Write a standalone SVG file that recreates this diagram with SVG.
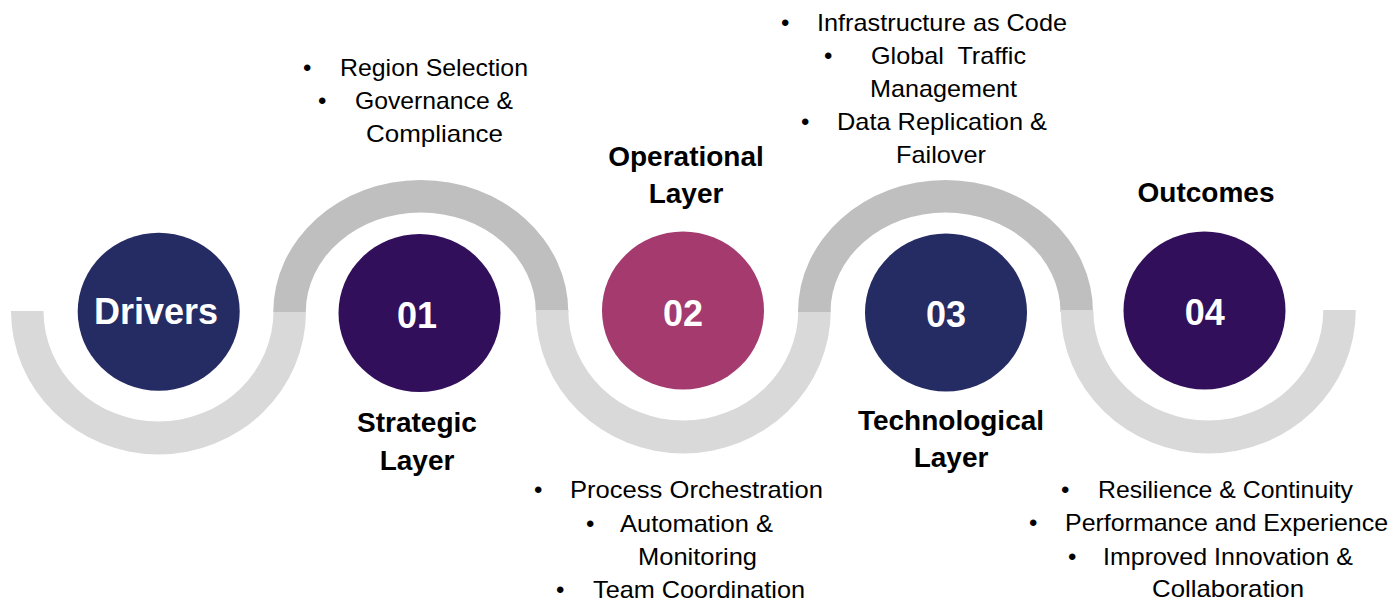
<svg xmlns="http://www.w3.org/2000/svg" width="1397" height="602" viewBox="0 0 1397 602">
<style>
.lo{fill:#d9d9d9}
.up{fill:#bfbfbf}
.num{font-family:"Liberation Sans",Arial,sans-serif;font-weight:bold;font-size:36px;fill:#ffffff;text-anchor:middle}
.ttl{font-family:"Liberation Sans",Arial,sans-serif;font-weight:bold;font-size:28px;fill:#000000;text-anchor:middle}
.bt{font-family:"Liberation Sans",Arial,sans-serif;font-size:24px;fill:#000000}
.navy{fill:#252b63}
.purple{fill:#320f5a}
.mag{fill:#a43a6e}
</style>
<rect width="1397" height="602" fill="#ffffff"/>
<g id="connectors">
<path class="lo" d="M11,311 A147.5,143.5 0 0 0 306,311 L273.5,311 A115,110.5 0 0 1 43.5,311 Z"/>
<path class="up" d="M273.3,312 A147.5,132 0 0 1 568.3,312 L535.8,312 A115,99.5 0 0 0 305.8,312 Z"/>
<path class="lo" d="M535.8,310 A147.5,143.5 0 0 0 830.8,310 L798.3,310 A115,110.5 0 0 1 568.3,310 Z"/>
<path class="up" d="M798,312 A147.5,132 0 0 1 1093,312 L1060.5,312 A115,99.5 0 0 0 830.5,312 Z"/>
<path class="lo" d="M1060.8,310 A147.5,143.5 0 0 0 1355.8,310 L1323.3,310 A115,110.5 0 0 1 1093.3,310 Z"/>
</g>
<g id="drivers">
<ellipse class="navy" cx="158.7" cy="311.7" rx="81" ry="79"/>
<text class="num" x="156" y="324" font-size="32.5">Drivers</text>
</g>
<g id="strategic">
<ellipse class="purple" cx="419.5" cy="313" rx="81" ry="79"/>
<text class="num" x="417" y="328">01</text>
<text class="ttl" x="417" y="432">Strategic</text>
<text class="ttl" x="417" y="470">Layer</text>
<text class="bt" x="303" y="76">•</text>
<text class="bt" x="340" y="76" textLength="188" lengthAdjust="spacingAndGlyphs">Region Selection</text>
<text class="bt" x="318" y="109">•</text>
<text class="bt" x="355" y="109" textLength="158" lengthAdjust="spacingAndGlyphs">Governance &amp;</text>
<text class="bt" x="366" y="142" textLength="137" lengthAdjust="spacingAndGlyphs">Compliance</text>
</g>
<g id="operational">
<ellipse class="mag" cx="683" cy="310.5" rx="81" ry="79"/>
<text class="num" x="683" y="326">02</text>
<text class="ttl" x="686" y="166">Operational</text>
<text class="ttl" x="686" y="203">Layer</text>
<text class="bt" x="534" y="498">•</text>
<text class="bt" x="570" y="498" textLength="253" lengthAdjust="spacingAndGlyphs">Process Orchestration</text>
<text class="bt" x="586" y="532">•</text>
<text class="bt" x="620" y="532" textLength="153" lengthAdjust="spacingAndGlyphs">Automation &amp;</text>
<text class="bt" x="638" y="565" textLength="119" lengthAdjust="spacingAndGlyphs">Monitoring</text>
<text class="bt" x="556" y="598">•</text>
<text class="bt" x="593" y="598" textLength="212" lengthAdjust="spacingAndGlyphs">Team Coordination</text>
</g>
<g id="technological">
<ellipse class="navy" cx="946" cy="312.5" rx="81" ry="79"/>
<text class="num" x="946" y="326.5">03</text>
<text class="ttl" x="951" y="430">Technological</text>
<text class="ttl" x="951" y="467">Layer</text>
<text class="bt" x="781" y="31">•</text>
<text class="bt" x="817" y="31" textLength="250" lengthAdjust="spacingAndGlyphs">Infrastructure as Code</text>
<text class="bt" x="824" y="64">•</text>
<text class="bt" x="871" y="64" textLength="155" lengthAdjust="spacingAndGlyphs" xml:space="preserve">Global  Traffic</text>
<text class="bt" x="870" y="97" textLength="147" lengthAdjust="spacingAndGlyphs">Management</text>
<text class="bt" x="801" y="130">•</text>
<text class="bt" x="837" y="130" textLength="210" lengthAdjust="spacingAndGlyphs">Data Replication &amp;</text>
<text class="bt" x="896" y="163" textLength="90" lengthAdjust="spacingAndGlyphs">Failover</text>
</g>
<g id="outcomes">
<ellipse class="purple" cx="1204.5" cy="310.5" rx="81" ry="79"/>
<text class="num" x="1204.7" y="325">04</text>
<text class="ttl" x="1206" y="202">Outcomes</text>
<text class="bt" x="1061" y="498">•</text>
<text class="bt" x="1098" y="498" textLength="255" lengthAdjust="spacingAndGlyphs">Resilience &amp; Continuity</text>
<text class="bt" x="1029" y="531">•</text>
<text class="bt" x="1065" y="531" textLength="323" lengthAdjust="spacingAndGlyphs">Performance and Experience</text>
<text class="bt" x="1068" y="565">•</text>
<text class="bt" x="1103" y="565" textLength="250" lengthAdjust="spacingAndGlyphs">Improved Innovation &amp;</text>
<text class="bt" x="1152" y="597" textLength="152" lengthAdjust="spacingAndGlyphs">Collaboration</text>
</g>
</svg>
